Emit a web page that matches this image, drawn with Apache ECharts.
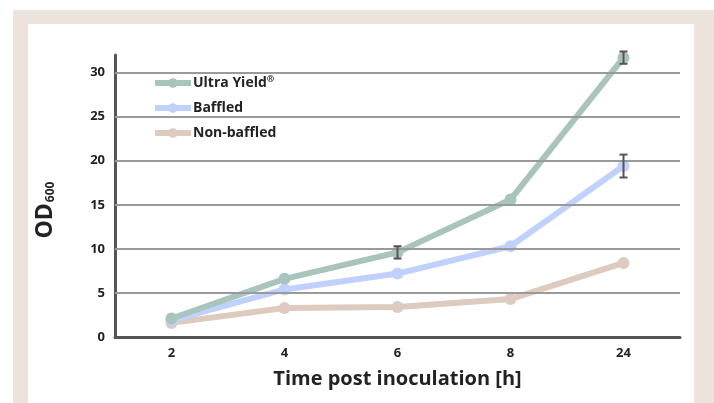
<!DOCTYPE html>
<html>
<head>
<meta charset="utf-8">
<script src="https://cdn.jsdelivr.net/npm/echarts@6/dist/echarts.min.js"></script>
<style>
  html, body { margin: 0; padding: 0; background: #ffffff; }
  #frame { position: absolute; left: 13px; top: 10px; width: 701px; height: 393px; background: #ebe3dc; }
  #chart { position: absolute; left: 28px; top: 24px; width: 666px; height: 379px; background: #ffffff; }
</style>
</head>
<body>
<div id="frame"></div>
<div id="chart"></div>
<script>
var chart = echarts.init(document.getElementById('chart'));

// Data
var hours = ['2', '4', '6', '8', '24'];
var ultraYield = [2.1, 6.6, 9.6, 15.6, 31.7];
var baffled = [1.9, 5.4, 7.2, 10.3, 19.4];
var nonBaffled = [1.6, 3.3, 3.4, 4.3, 8.4];
// error bars: [category index, low, high]
var errorBars = [
    [2, 8.9, 10.3],
    [4, 31.0, 32.4],
    [4, 18.1, 20.7]
];
var gridValues = [5, 10, 15, 20, 25, 30];

var labelFont = 'Open Sans';

function lineSeries(name, data, color) {
    return {
        name: name,
        type: 'line',
        data: data,
        symbol: 'circle',
        symbolSize: 12,
        lineStyle: { color: color, width: 6 },
        itemStyle: { color: color },
        z: 3
    };
}

var option = {
    backgroundColor: '#ffffff',
    animation: false,
    textStyle: { fontFamily: labelFont },
    legend: {
        orient: 'vertical',
        left: 119,
        top: 46,
        itemWidth: 36,
        itemHeight: 12,
        itemGap: 11,
        data: ['Ultra Yield®', 'Baffled', 'Non-baffled'],
        lineStyle: { width: 6 },
        itemStyle: { borderWidth: 0 },
        formatter: function (name) {
            return name.replace('®', '{r|®}');
        },
        textStyle: {
            color: '#222222', fontSize: 14, fontWeight: 'bold', fontFamily: labelFont, padding: [0, 0, 0, -3],
            rich: {
                r: { fontSize: 9, fontWeight: 'bold', color: '#222222', fontFamily: labelFont, padding: [0, 0, 7, 0] }
            }
        }
    },
    grid: {
        left: 87,
        right: 14,
        top: 31,
        bottom: 66,
        outerBoundsMode: 'none'
    },
    xAxis: {
        type: 'category',
        data: hours,
        boundaryGap: true,
        name: 'Time post inoculation [h]',
        nameLocation: 'middle',
        nameGap: 32,
        nameTextStyle: { color: '#222222', fontSize: 20, fontWeight: 'bold', fontFamily: labelFont },
        axisLine: { lineStyle: { color: '#555555', width: 3 } },
        axisTick: { show: false },
        axisLabel: { color: '#222222', fontSize: 13, fontWeight: 'bold', margin: 10 }
    },
    yAxis: {
        type: 'value',
        min: 0,
        max: 32,
        interval: 5,
        name: '{a|OD}{b|600}',
        nameLocation: 'middle',
        nameRotate: 90,
        nameGap: 58,
        nameTextStyle: {
            padding: [0, 28, 0, 0],
            rich: {
                a: { fontSize: 23, fontWeight: 'bold', color: '#222222', fontFamily: labelFont },
                b: { fontSize: 12, fontWeight: 'bold', color: '#222222', fontFamily: labelFont, padding: [12, 0, 0, 1] }
            }
        },
        axisLine: { show: true, lineStyle: { color: '#555555', width: 3 } },
        axisTick: { show: false },
        splitLine: { show: false },
        axisLabel: { color: '#222222', fontSize: 13, fontWeight: 'bold', margin: 10, showMaxLabel: false }
    },
    series: [
        {
            name: 'grid',
            type: 'line',
            data: [],
            z: 1,
            markLine: {
                silent: true,
                symbol: 'none',
                label: { show: false },
                lineStyle: { color: '#9a9a9a', width: 2, type: 'solid' },
                data: gridValues.map(function (v) { return { yAxis: v }; })
            }
        },
        lineSeries('Non-baffled', nonBaffled, '#dccbbe'),
        lineSeries('Baffled', baffled, '#bfd1fc'),
        lineSeries('Ultra Yield®', ultraYield, '#a9c4bd'),
        {
            type: 'custom',
            data: errorBars,
            z: 5,
            renderItem: function (params, api) {
                var x = api.value(0);
                var lo = api.coord([x, api.value(1)]);
                var hi = api.coord([x, api.value(2)]);
                var half = 4;
                var style = { stroke: '#555555', lineWidth: 2 };
                return {
                    type: 'group',
                    children: [
                        { type: 'line', shape: { x1: lo[0], y1: lo[1], x2: hi[0], y2: hi[1] }, style: style },
                        { type: 'line', shape: { x1: lo[0] - half, y1: lo[1], x2: lo[0] + half, y2: lo[1] }, style: style },
                        { type: 'line', shape: { x1: hi[0] - half, y1: hi[1], x2: hi[0] + half, y2: hi[1] }, style: style }
                    ]
                };
            }
        }
    ]
};

chart.setOption(option);

window.addEventListener('resize', function () {
    chart.resize();
});
</script>
</body>
</html>
